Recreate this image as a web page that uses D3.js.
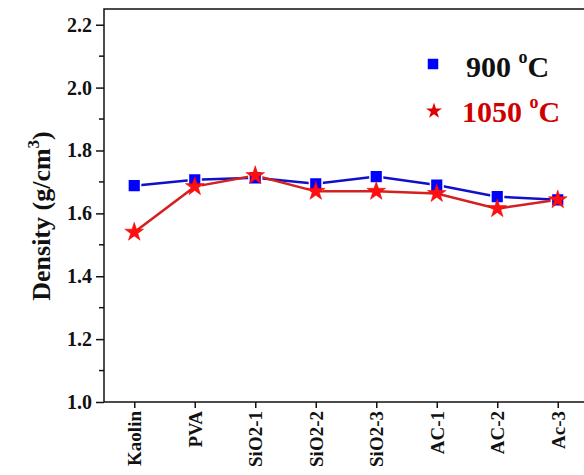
<!DOCTYPE html>
<html>
<head>
<meta charset="utf-8">
<script src="https://cdn.jsdelivr.net/npm/d3@7"></script>
<style>
  body { margin: 0; background: #fff; }
  text { font-family: "Liberation Serif", "Times New Roman", serif; font-weight: bold; }
</style>
</head>
<body>
<script>
var categories = ['Kaolin', 'PVA', 'SiO2-1', 'SiO2-2', 'SiO2-3', 'AC-1', 'AC-2', 'Ac-3'];
var density900 = [1.688, 1.707, 1.713, 1.694, 1.717, 1.690, 1.653, 1.643];
var density1050 = [1.540, 1.685, 1.720, 1.670, 1.670, 1.663, 1.615, 1.643];
var yTicks = [1.0, 1.2, 1.4, 1.6, 1.8, 2.0, 2.2];
var yMinor = [1.1, 1.3, 1.5, 1.7, 1.9, 2.1];

var width = 584, height = 475;
var plotLeft = 104, plotRight = 588, plotTop = 9, plotBottom = 402;

var svg = d3.select('body').append('svg')
  .attr('width', width)
  .attr('height', height);

var x = d3.scalePoint().domain(categories).range([plotLeft, plotRight]).padding(0.5);
var y = d3.scaleLinear().domain([1.0, 2.25]).range([plotBottom, plotTop]);

// frame
svg.append('rect')
  .attr('x', plotLeft).attr('y', plotTop)
  .attr('width', plotRight - plotLeft).attr('height', plotBottom - plotTop)
  .attr('fill', 'none').attr('stroke', '#111').attr('stroke-width', 1.5);

// y axis
var yAxis = svg.append('g')
  .attr('transform', 'translate(' + plotLeft + ',0)')
  .call(d3.axisLeft(y).tickValues(yTicks).tickFormat(d3.format('.1f')).tickSize(8).tickPadding(4));
yAxis.select('.domain').remove();
yAxis.selectAll('line').attr('stroke', '#111').attr('stroke-width', 1.5);
yAxis.selectAll('text').attr('font-size', 20).attr('fill', '#111');

svg.append('g').selectAll('line').data(yMinor).enter().append('line')
  .attr('x1', plotLeft - 5).attr('x2', plotLeft)
  .attr('y1', function(d) { return y(d); })
  .attr('y2', function(d) { return y(d); })
  .attr('stroke', '#111').attr('stroke-width', 1.5);

// x axis
var xAxis = svg.append('g')
  .attr('transform', 'translate(0,' + plotBottom + ')')
  .call(d3.axisBottom(x).tickSize(6).tickSizeOuter(0));
xAxis.select('.domain').remove();
xAxis.selectAll('line').attr('stroke', '#111').attr('stroke-width', 1.5);
xAxis.selectAll('text')
  .attr('font-size', 19).attr('fill', '#111')
  .attr('transform', 'rotate(-90)')
  .attr('text-anchor', 'end')
  .attr('x', -9).attr('y', 0).attr('dy', '0.35em');

// y label
svg.append('text')
  .attr('transform', 'translate(50,' + 216 + ') rotate(-90)')
  .attr('text-anchor', 'middle')
  .attr('font-size', 26).attr('fill', '#111')
  .html('Density (g/cm<tspan dy="-11" font-size="17">3</tspan><tspan dy="11">)</tspan>');

var line = d3.line()
  .x(function(d, i) { return x(categories[i]); })
  .y(function(d) { return y(d); });

svg.append('path').datum(density900)
  .attr('d', line).attr('fill', 'none')
  .attr('stroke', '#1010c8').attr('stroke-width', 2.5);
svg.append('path').datum(density1050)
  .attr('d', line).attr('fill', 'none')
  .attr('stroke', '#d42020').attr('stroke-width', 2.5);

var sq = d3.symbol().type(d3.symbolSquare).size(160);
var star = d3.symbol().type(d3.symbolStar).size(110);

svg.append('g').selectAll('path').data(density900).enter().append('path')
  .attr('d', sq)
  .attr('transform', function(d, i) { return 'translate(' + x(categories[i]) + ',' + y(d) + ')'; })
  .attr('fill', '#0000ff').attr('stroke', '#fff').attr('stroke-width', 1.5);
svg.append('g').selectAll('path').data(density1050).enter().append('path')
  .attr('d', star)
  .attr('transform', function(d, i) { return 'translate(' + x(categories[i]) + ',' + y(d) + ')'; })
  .attr('fill', '#ff0f0f').attr('stroke', '#e00').attr('stroke-width', 0.5);

// legend
var legend = svg.append('g');
legend.append('path').attr('d', d3.symbol().type(d3.symbolSquare).size(110))
  .attr('transform', 'translate(433,64)').attr('fill', '#0000ff');
legend.append('text').attr('x', 466).attr('y', 77)
  .attr('font-size', 30).attr('fill', '#111')
  .html('900 <tspan dy="-14" font-size="18">o</tspan><tspan dy="14">C</tspan>');
legend.append('path').attr('d', d3.symbol().type(d3.symbolStar).size(80))
  .attr('transform', 'translate(434,111)').attr('fill', '#e00000');
legend.append('text').attr('x', 462).attr('y', 122)
  .attr('font-size', 30).attr('fill', '#d00000')
  .html('1050 <tspan dy="-14" font-size="18">o</tspan><tspan dy="14">C</tspan>');
</script>
</body>
</html>
